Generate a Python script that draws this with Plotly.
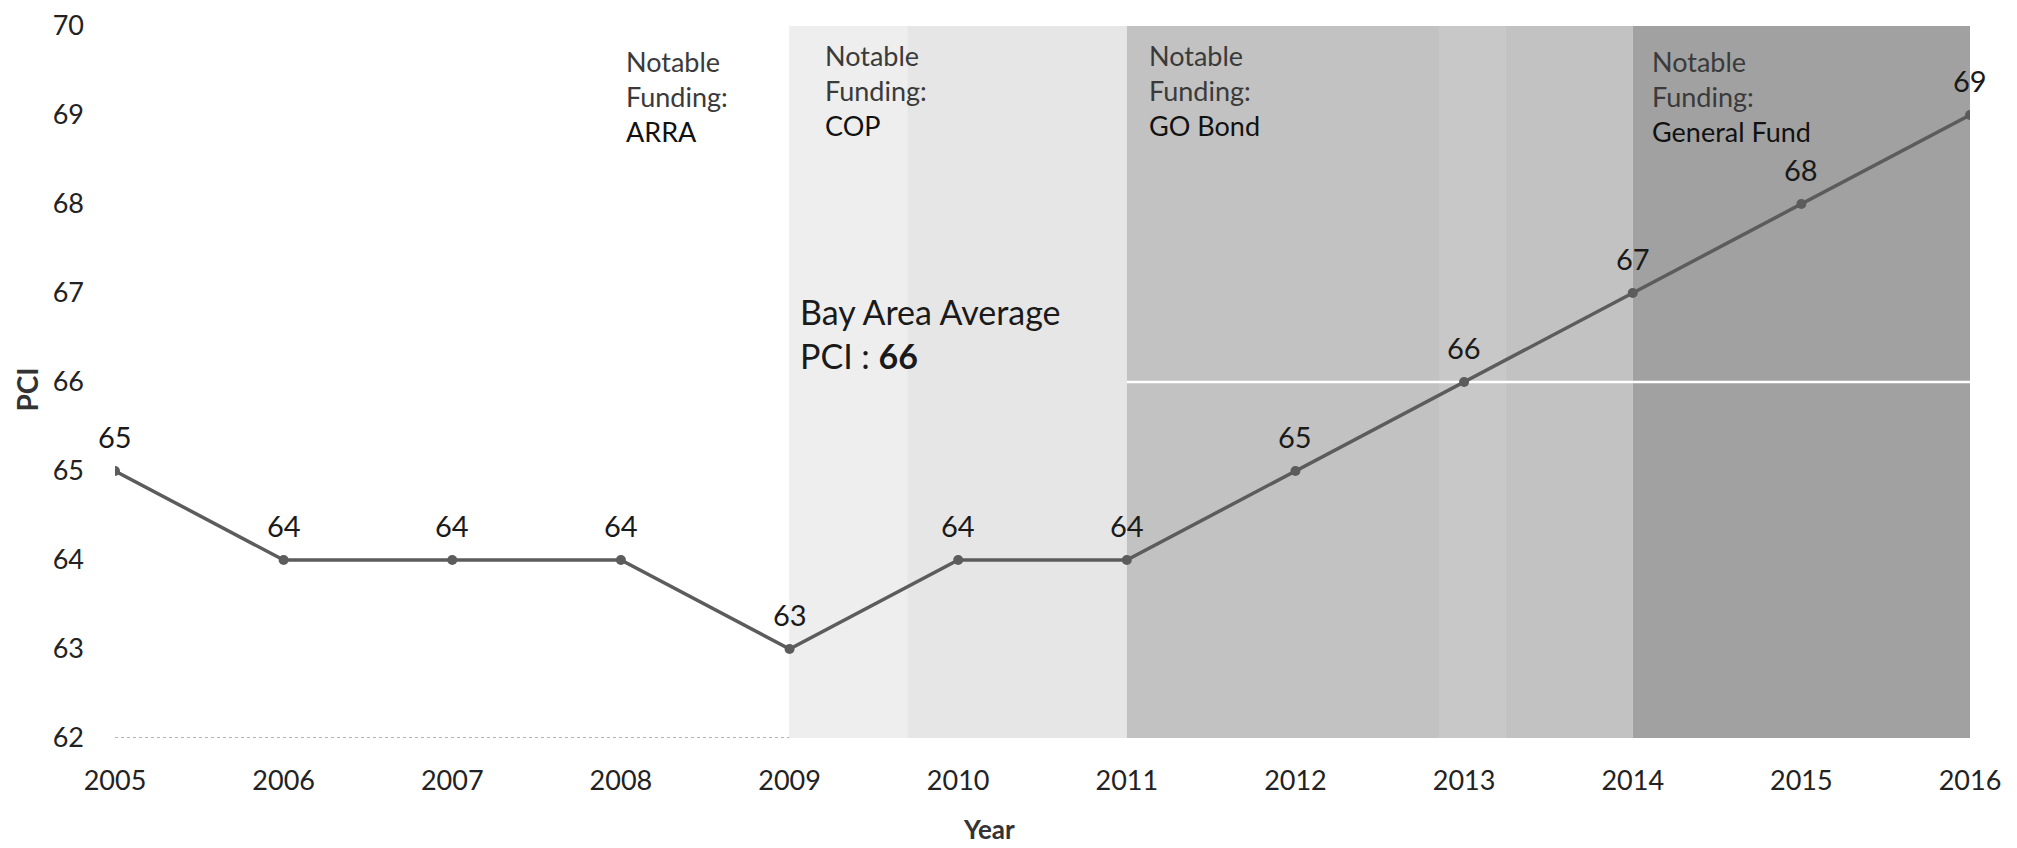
import plotly.graph_objects as go

years = [2005, 2006, 2007, 2008, 2009, 2010, 2011, 2012, 2013, 2014, 2015, 2016]
pci = [65, 64, 64, 64, 63, 64, 64, 65, 66, 67, 68, 69]

period_starts = [2009, 2011, 2014]
period_ends = [2011, 2014, 2016]
period_colors = ["#e6e6e6", "#c2c2c2", "#a1a1a1"]

funding_names = ["ARRA", "COP", "GO Bond", "General Fund"]
funding_x = [2008.02, 2009.2, 2011.12, 2014.1]
funding_y = [69.21, 69.28, 69.28, 69.21]

bay_area_avg = 66
y_ticks = [62, 63, 64, 65, 66, 67, 68, 69, 70]

FONT = "Lato, 'Open Sans', sans-serif"

fig = go.Figure()

shapes = []
# baseline
shapes.append(dict(type="line", xref="x", yref="y", x0=years[0], x1=years[-1], y0=62, y1=62,
                   line=dict(color="#9a9a9a", width=1.5, dash="dot"), layer="below"))
for s, e, c in zip(period_starts, period_ends, period_colors):
    shapes.append(dict(type="rect", xref="x", yref="y", x0=s, x1=e, y0=62, y1=70,
                       fillcolor=c, line=dict(width=0), layer="below"))
# subtle tonal variations in the shaded bands
shapes.append(dict(type="rect", xref="x", yref="y", x0=2009, x1=2009.7, y0=62, y1=70,
                   fillcolor="#eeeeee", line=dict(width=0), layer="below"))
shapes.append(dict(type="rect", xref="x", yref="y", x0=2012.85, x1=2013.25, y0=62, y1=70,
                   fillcolor="#c8c8c8", line=dict(width=0), layer="below"))
# Bay Area average reference line
shapes.append(dict(type="line", xref="x", yref="y", x0=2011, x1=years[-1], y0=bay_area_avg, y1=bay_area_avg,
                   line=dict(color="#ffffff", width=2.5), layer="below"))

fig.add_trace(go.Scatter(
    x=years, y=pci, mode="lines+markers",
    line=dict(color="#5c5c5c", width=3.5),
    marker=dict(color="#5c5c5c", size=10),
    hoverinfo="x+y", showlegend=False,
))

annotations = []
for xv, yv in zip(years, pci):
    annotations.append(dict(x=xv, y=yv, xref="x", yref="y", text=str(yv), showarrow=False,
                            xanchor="center", yanchor="middle", yshift=35,
                            font=dict(family=FONT, size=29, color="#1a1a1a")))

for name, fx, fy in zip(funding_names, funding_x, funding_y):
    annotations.append(dict(
        x=fx, y=fy, xref="x", yref="y", xanchor="left", yanchor="middle", align="left",
        showarrow=False,
        text="<span style='color:#3a3a3a'>Notable<br>Funding:</span><br>" + name,
        font=dict(family=FONT, size=27, color="#111111"),
    ))

annotations.append(dict(
    x=2009.05, y=66.55, xref="x", yref="y", xanchor="left", yanchor="middle", align="left",
    showarrow=False,
    text="Bay Area Average<br>PCI : <b>" + str(bay_area_avg) + "</b>",
    font=dict(family=FONT, size=34, color="#1a1a1a"),
))

annotations.append(dict(x=2010.18, y=0, xref="x", yref="paper", yshift=-91,
                        xanchor="center", yanchor="middle",
                        showarrow=False, text="<b>Year</b>",
                        font=dict(family=FONT, size=26, color="#333333")))
annotations.append(dict(x=-0.0474, y=0.4895, xref="paper", yref="paper", textangle=-90,
                        xanchor="center", yanchor="middle",
                        showarrow=False, text="<b>PCI</b>",
                        font=dict(family=FONT, size=28, color="#333333")))

# the page body has an 8px margin, so the figure is shrunk by 8px and margins shifted
fig.update_layout(
    width=2009, height=840,
    margin=dict(l=107, r=47, t=18, b=110, autoexpand=False),
    paper_bgcolor="white", plot_bgcolor="white",
    shapes=shapes, annotations=annotations,
    xaxis=dict(range=[years[0], years[-1]], tickmode="array", tickvals=years,
               ticktext=[str(y) for y in years], showgrid=False, zeroline=False,
               showline=False, ticks="", ticklabelstandoff=24,
               ticklabeloverflow="allow", automargin=False,
               tickfont=dict(family=FONT, size=27, color="#222222")),
    yaxis=dict(range=[62, 70], tickmode="array", tickvals=y_ticks,
               showgrid=False, zeroline=False, showline=False, ticks="",
               ticklabelstandoff=30, ticklabeloverflow="allow", automargin=False,
               tickfont=dict(family=FONT, size=27, color="#222222")),
)

fig.write_html("out.html")
